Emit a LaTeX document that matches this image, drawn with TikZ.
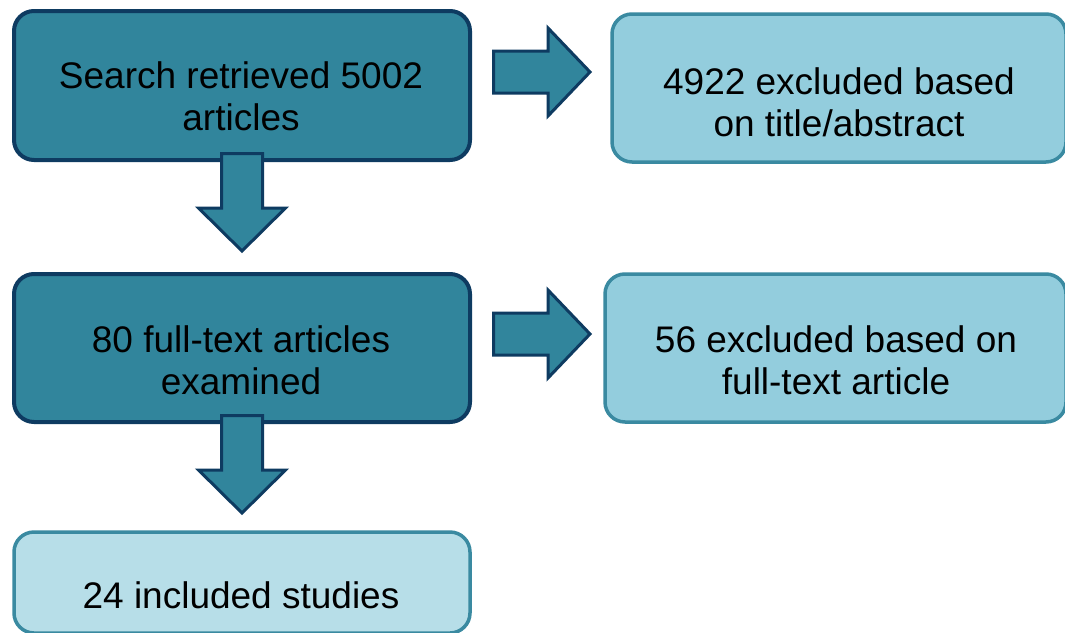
\documentclass[tikz,border=0pt]{standalone}
\usepackage{fontspec}
\setmainfont{Liberation Sans}
\definecolor{tealfill}{HTML}{31859C}
\definecolor{navyline}{HTML}{0E3B61}
\definecolor{lightaqua}{HTML}{93CDDD}
\definecolor{paleaqua}{HTML}{B7DEE8}
\definecolor{lightline}{HTML}{3A8AA1}
\begin{document}
\begin{tikzpicture}[x=1pt,y=-1pt,
  darkbox/.style={rectangle, rounded corners=20pt, draw=navyline, line width=4pt, fill=tealfill, inner sep=0pt},
  lightbox/.style={rectangle, rounded corners=20pt, draw=lightline, line width=3.5pt, fill=lightaqua, inner sep=0pt},
  palebox/.style={rectangle, rounded corners=20pt, draw=lightline, line width=3.5pt, fill=paleaqua, inner sep=0pt},
  txt/.style={align=center, inner sep=0pt, font=\fontsize{37}{42}\selectfont},
  arrowbody/.style={draw=navyline, line width=3pt, fill=tealfill, line join=miter},
  rightblock/.pic={\path[arrowbody] (1.5,-21) -- (56,-21) -- (56,-44) -- (98,0) -- (56,44) -- (56,21) -- (1.5,21) -- cycle;},
  downblock/.pic={\path[arrowbody] (-20.5,1.5) -- (-20.5,56) -- (-43.5,56) -- (0,99) -- (43.5,56) -- (20.5,56) -- (20.5,1.5) -- cycle;}
]
\clip (0,0) rectangle (1065,632);
\fill[white] (0,0) rectangle (1065,632);
% boxes
\node[darkbox, minimum width=456pt, minimum height=149pt] (search) at (242,85.5) {};
\node[lightbox, minimum width=454pt, minimum height=148pt] (excl1) at (839,88) {};
\node[darkbox, minimum width=456pt, minimum height=148pt] (full) at (242,348) {};
\node[lightbox, minimum width=461pt, minimum height=148pt] (excl2) at (835.5,348) {};
\node[palebox, minimum width=456pt, minimum height=101pt] (incl) at (242,582.5) {};
% texts
\node[txt] (searchtxt) at (241,96) {Search retrieved 5002\\articles};
\node[txt] (excl1txt) at (839,102) {4922 excluded based\\on title/abstract};
\node[txt] (fulltxt) at (241,360) {80 full-text articles\\examined};
\node[txt] (excl2txt) at (836,360) {56 excluded based on\\full-text article};
\node[txt] (incltxt) at (241,595) {24 included studies};
% block arrows
\pic (a1) at (492,72) {rightblock};
\pic (a2) at (492,334) {rightblock};
\pic (a3) at (242,152) {downblock};
\pic (a4) at (242,414) {downblock};
\end{tikzpicture}
\end{document}
